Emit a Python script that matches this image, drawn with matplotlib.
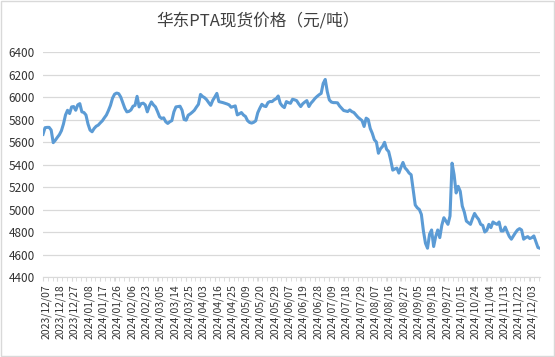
import numpy as np
import matplotlib
matplotlib.use("Agg")
import matplotlib.pyplot as plt
import matplotlib.transforms as mtransforms
from matplotlib.patches import Rectangle

plt.rcParams['font.family'] = ['Noto Sans CJK SC', 'DejaVu Sans']

title = '华东PTA现货价格（元/吨）'

tick_labels = ['2023/12/07', '2023/12/18', '2023/12/27', '2024/01/08', '2024/01/17',
               '2024/01/26', '2024/02/06', '2024/02/23', '2024/03/05', '2024/03/14',
               '2024/03/25', '2024/04/03', '2024/04/16', '2024/04/25', '2024/05/09',
               '2024/05/20', '2024/05/29', '2024/06/07', '2024/06/19', '2024/06/28',
               '2024/07/09', '2024/07/18', '2024/07/29', '2024/08/07', '2024/08/16',
               '2024/08/27', '2024/09/05', '2024/09/18', '2024/09/27', '2024/10/15',
               '2024/10/24', '2024/11/04', '2024/11/13', '2024/11/22', '2024/12/03']
label_step = 7   # one label every 7 trading days

# daily spot price, yuan/ton
price = [
    5668, 5727, 5730, 5730, 5706, 5594, 5615, 5641, 5665, 5700,
    5760, 5840, 5882, 5853, 5912, 5915, 5882, 5930, 5941, 5868,
    5862, 5840, 5760, 5706, 5691, 5720, 5740, 5750, 5770, 5788,
    5815, 5840, 5880, 5926, 5990, 6025, 6035, 6030, 6000, 5950,
    5900, 5868, 5872, 5885, 5918, 5926, 6006, 5912, 5941, 5945,
    5930, 5868, 5920, 5956, 5930, 5912, 5870, 5824, 5809, 5815,
    5780, 5765, 5780, 5790, 5868, 5912, 5915, 5918, 5882, 5800,
    5794, 5838, 5850, 5865, 5882, 5910, 5935, 6023, 6005, 5994,
    5976, 5950, 5926, 5970, 6000, 6032, 5959, 5955, 5950, 5944,
    5938, 5930, 5909, 5915, 5921, 5841, 5850, 5862, 5840, 5827,
    5790, 5774, 5768, 5775, 5788, 5860, 5900, 5935, 5920, 5915,
    5950, 5960, 5959, 5975, 5985, 6009, 5944, 5920, 5906, 5959,
    5950, 5944, 5980, 5975, 5968, 5940, 5915, 5940, 5955, 5968,
    5915, 5945, 5965, 5988, 6005, 6020, 6032, 6121, 6156, 6047,
    5974, 5955, 5950, 5950, 5948, 5920, 5900, 5880, 5875, 5871,
    5885, 5870, 5862, 5841, 5820, 5805, 5790, 5738, 5812, 5800,
    5720, 5677, 5620, 5600, 5500, 5540, 5560, 5597, 5535, 5515,
    5440, 5350, 5360, 5368, 5324, 5374, 5418, 5370, 5350, 5324,
    5309, 5177, 5040, 5015, 5000, 4956, 4809, 4700, 4656, 4780,
    4818, 4671, 4760, 4818, 4750, 4860, 4927, 4897, 4868, 4942,
    5412, 5309, 5147, 5206, 5162, 5030, 4977, 4897, 4883, 4868,
    4920, 4965, 4935, 4912, 4868, 4859, 4800, 4815, 4868, 4839,
    4889, 4877, 4868, 4889, 4809, 4809, 4844, 4800, 4760, 4736,
    4765, 4794, 4818, 4830, 4818, 4736, 4750, 4759, 4742, 4750,
    4765, 4712, 4662, 4655,
]

x = np.arange(len(price))

fig = plt.figure(figsize=(5.55, 3.57), dpi=100)
ax = fig.add_axes([43/555, 1-277/357, 497/555, 225/357])

ax.plot(x, price, color='#5b9bd5', lw=2.2, solid_joinstyle='round', zorder=3)

ax.set_xlim(0, len(price) - 1)
ax.set_ylim(4400, 6400)
ax.set_yticks(np.arange(4400, 6401, 200))
ax.grid(axis='y', color='#d9d9d9', lw=0.9)
ax.set_axisbelow(True)

ticks = np.arange(0, len(price), label_step)[:len(tick_labels)]
ax.set_xticks(ticks)
ax.set_xticklabels(tick_labels, rotation=90, fontsize=7.5, color='#333333')
ax.set_xticks(np.arange(0, len(price), 2.33), minor=True)
ax.tick_params(axis='x', which='both', length=3, color='#d9d9d9', pad=2)
ax.tick_params(axis='y', length=0, pad=6, labelsize=8.5, labelcolor='#333333')

off = mtransforms.ScaledTranslation(3/100, 0, fig.dpi_scale_trans)
for lbl in ax.get_xticklabels():
    lbl.set_transform(lbl.get_transform() + off)

for s in ['top', 'right', 'left']:
    ax.spines[s].set_visible(False)
ax.spines['bottom'].set_color('#d9d9d9')

fig.text(258/555, 1-21/357, title, ha='center', va='center', fontsize=12, color='#404040')

fig.patches.append(Rectangle((0.001, 0.002), 0.997, 0.996, transform=fig.transFigure,
                             fill=False, edgecolor='#d9d9d9', lw=1))

fig.savefig('out.png', dpi=100)
